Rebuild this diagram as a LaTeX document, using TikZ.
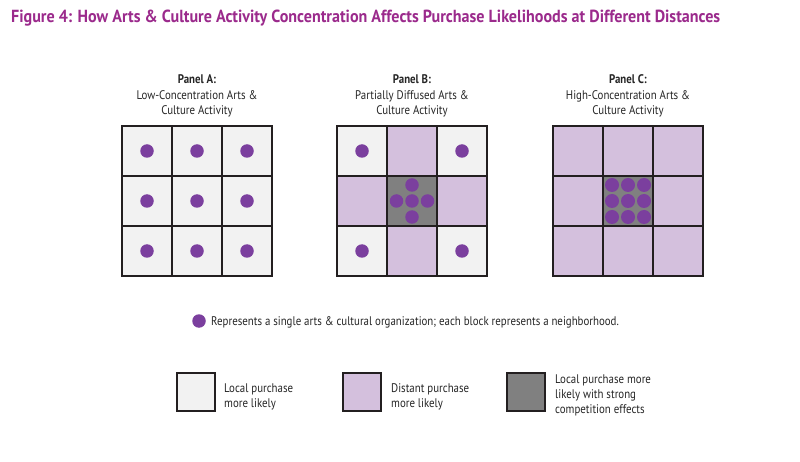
\documentclass[tikz,border=0pt]{standalone}
\usepackage{fontspec}
\setmainfont{PT Sans}
\usepackage{graphicx}
\definecolor{titlecol}{HTML}{9B2A8C}
\definecolor{dotcol}{HTML}{7B3F9E}
\definecolor{lightc}{HTML}{F2F2F2}
\definecolor{lavc}{HTML}{D4C0DD}
\definecolor{darkc}{HTML}{808080}
\definecolor{linec}{HTML}{231F20}
\newcommand\cnd[1]{\scalebox{0.87}[1]{#1}}
\tikzset{
  cell/.style={draw=linec, line width=1.4pt},
  orgdot/.style={circle, fill=dotcol, inner sep=0pt, minimum size=13.5pt},
  txt/.style={font=\fontsize{12.5}{14}\selectfont, text=black!85, anchor=base, inner sep=0pt},
  ltxt/.style={txt, anchor=base west},
}
\begin{document}
\begin{tikzpicture}[x=1pt,y=-1pt]
\useasboundingbox (0,0) rectangle (800,462);
\fill[white] (0,0) rectangle (800,462);
% title
\node[anchor=base west, inner sep=0pt, text=titlecol] (title) at (11,22.5)
  {\resizebox{709pt}{12.5pt}{\bfseries Figure 4: How Arts \& Culture Activity Concentration Affects Purchase Likelihoods at Different Distances}};
% panel headings
\foreach \cx/\nm/\la/\lb [count=\i] in {197/A/Low-Concentration Arts \&/Culture Activity, 412/B/Partially Diffused Arts \&/Culture Activity, 628/C/High-Concentration Arts \&/Culture Activity}{
  \node[txt] (h\i) at (\cx,84) {\cnd{\bfseries Panel \nm:}};
  \node[txt] (ha\i) at (\cx,100) {\cnd{\la}};
  \node[txt] (hb\i) at (\cx,115) {\cnd{\lb}};
}
% Panel A
\foreach \r in {0,1,2}{\foreach \c in {0,1,2}{
  \filldraw[cell, fill=lightc] (122+50*\c,126+50*\r) rectangle ++(50,50);
  \node[orgdot] (a\r\c) at (147+50*\c,151+50*\r) {};
}}
% Panel B
\foreach \r in {0,1,2}{\foreach \c in {0,1,2}{
  \pgfmathtruncatemacro\s{mod(\r+\c,2)}
  \ifnum\s=0 \def\fc{lightc}\else \def\fc{lavc}\fi
  \ifnum\r=1 \ifnum\c=1 \def\fc{darkc}\fi\fi
  \filldraw[cell, fill=\fc] (337+50*\c,126+50*\r) rectangle ++(50,50);
}}
\foreach \r in {0,2}{\foreach \c in {0,2}{
  \node[orgdot] (b\r\c) at (362+50*\c,151+50*\r) {};
}}
\foreach \dx/\dy [count=\k] in {0/0,-15.5/0,15.5/0,0/-16,0/16}{
  \node[orgdot] (bc\k) at (412+\dx,201+\dy) {};
}
% Panel C
\foreach \r in {0,1,2}{\foreach \c in {0,1,2}{
  \def\fc{lavc}
  \ifnum\r=1 \ifnum\c=1 \def\fc{darkc}\fi\fi
  \filldraw[cell, fill=\fc] (553+50*\c,126+50*\r) rectangle ++(50,50);
}}
\foreach \r in {-1,0,1}{\foreach \c in {-1,0,1}{
  \node[orgdot, minimum size=14pt] (c\r\c) at (628+16*\c,201+16*\r) {};
}}
% dot legend
\node[orgdot] (ldot) at (199,321) {};
\node[ltxt] (ltext) at (211,325) {\cnd{Represents a single arts \& cultural organization; each block represents a neighborhood.}};
% box legend
\filldraw[cell, fill=lightc] (177,373) rectangle (215,411);
\node[ltxt] (l1a) at (224,392) {\cnd{Local purchase}};
\node[ltxt] (l1b) at (224,407) {\cnd{more likely}};
\filldraw[cell, fill=lavc] (343,373) rectangle (381,411);
\node[ltxt] (l2a) at (391,392) {\cnd{Distant purchase}};
\node[ltxt] (l2b) at (391,407) {\cnd{more likely}};
\filldraw[cell, fill=darkc] (507,373) rectangle (545,411);
\node[ltxt] (l3a) at (555,383) {\cnd{Local purchase more}};
\node[ltxt] (l3b) at (555,398) {\cnd{likely with strong}};
\node[ltxt] (l3c) at (555,413) {\cnd{competition effects}};
\end{tikzpicture}
\end{document}
